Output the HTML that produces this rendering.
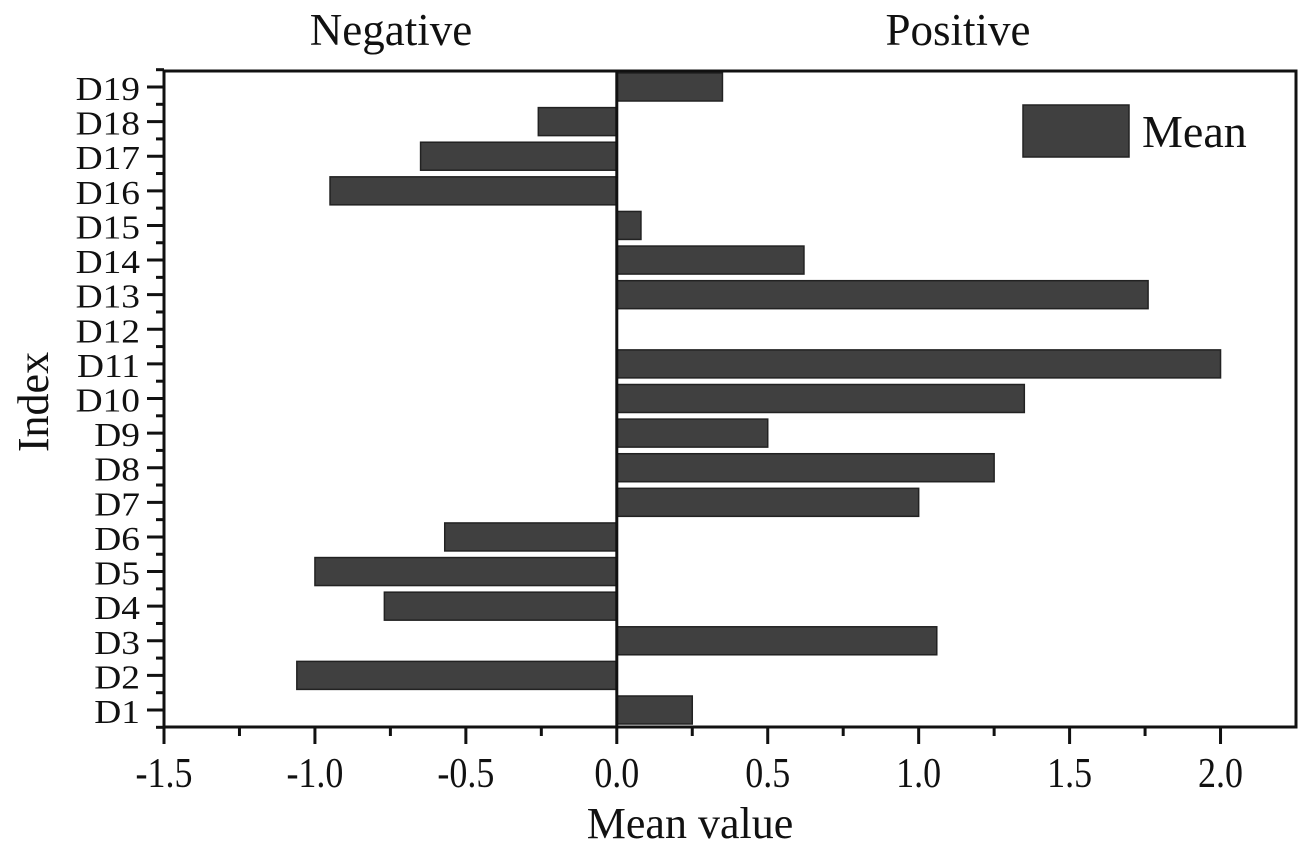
<!DOCTYPE html>
<html><head><meta charset="utf-8"><style>
html,body{margin:0;padding:0;background:#fff;}
svg text{font-family:"Liberation Serif",serif;fill:#111;}
</style></head><body>
<svg id="chart" width="1300" height="851" viewBox="0 0 1300 851">
<g id="g"></g>
</svg>
<script>
const categories=["D1","D2","D3","D4","D5","D6","D7","D8","D9","D10","D11","D12","D13","D14","D15","D16","D17","D18","D19"];
const meanValues=[0.25,-1.06,1.06,-0.77,-1.0,-0.57,1.0,1.25,0.5,1.35,2.0,0,1.76,0.62,0.08,-0.95,-0.65,-0.26,0.35];
const xTicks=[-1.5,-1.0,-0.5,0.0,0.5,1.0,1.5,2.0];
const xTickLabels=["-1.5","-1.0","-0.5","0.0","0.5","1.0","1.5","2.0"];
const L=164,R=1296,T=71,B=727;
const xMin=-1.5,xMax=2.25;
const x=v=>L+(v-xMin)/(xMax-xMin)*(R-L);
const y=i=>710-i*(710-87)/18;
const step=(710-87)/18;
const ns="http://www.w3.org/2000/svg";
const g=document.getElementById('g');
function mk(t,a,txt){const e=document.createElementNS(ns,t);for(const k in a)e.setAttribute(k,a[k]);if(txt!==undefined)e.textContent=txt;g.appendChild(e);return e;}
categories.forEach((c,i)=>{
  const v=meanValues[i];if(v===0)return;
  const x0=Math.min(x(0),x(v)),w=Math.abs(x(v)-x(0));
  const r=mk('rect',{x:x0,y:y(i)-14,width:w,height:28,fill:'#404040',stroke:'#222','stroke-width':1.5});
  
  
});
const z=mk('line',{x1:x(0),x2:x(0),y1:T,y2:B,stroke:'#111','stroke-width':3});


const f=mk('rect',{x:L,y:T,width:R-L,height:B-T,fill:'none',stroke:'#111','stroke-width':3});


xTicks.forEach((v,i)=>{
  mk('line',{x1:x(v),x2:x(v),y1:B,y2:B+17,stroke:'#111','stroke-width':3});
  if(i<xTicks.length-1)mk('line',{x1:x(v+0.25),x2:x(v+0.25),y1:B,y2:B+9,stroke:'#111','stroke-width':3});
  const t=mk('text',{x:0,y:0,'text-anchor':'middle','font-size':36,transform:`translate(${x(v)},787) scale(1,1.18)`},xTickLabels[i]);
  
  
});
categories.forEach((c,i)=>{
  mk('line',{x1:L-17,x2:L,y1:y(i),y2:y(i),stroke:'#111','stroke-width':3});
  mk('line',{x1:L-8,x2:L,y1:y(i)+step/2,y2:y(i)+step/2,stroke:'#111','stroke-width':3});
  const t=mk('text',{x:0,y:0,'text-anchor':'end','font-size':34,transform:`translate(${L-24},${y(i)+13}) scale(1.1,1)`},c);
  
  
});
mk('line',{x1:L-8,x2:L,y1:y(18)-step/2,y2:y(18)-step/2,stroke:'#111','stroke-width':3});
let t=mk('text',{x:(L+R)/2-40,y:838,'text-anchor':'middle','font-size':44},'Mean value');

t=mk('text',{x:0,y:0,'text-anchor':'middle','font-size':44,transform:'translate(48,402) rotate(-90)'},'Index');

t=mk('text',{x:391,y:45,'text-anchor':'middle','font-size':45},'Negative');

t=mk('text',{x:958,y:45,'text-anchor':'middle','font-size':45},'Positive');

const lr=mk('rect',{x:1023,y:105,width:106,height:52,fill:'#404040',stroke:'#222','stroke-width':1.5});

t=mk('text',{x:1142,y:147,'font-size':46},'Mean');

</script>
</body></html>
